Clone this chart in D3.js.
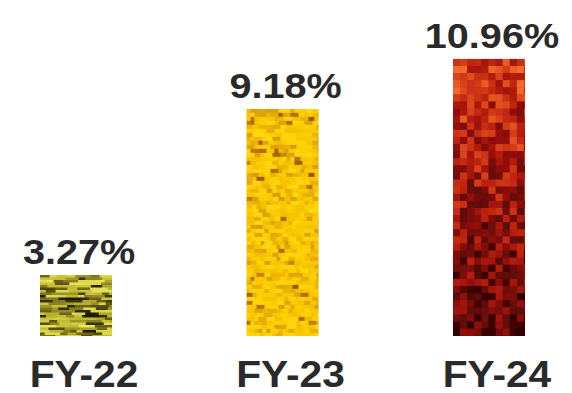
<!DOCTYPE html>
<html>
<head>
<meta charset="utf-8">
<script src="https://cdn.jsdelivr.net/npm/d3@7"></script>
<style>
  html, body { margin: 0; padding: 0; background: #ffffff; }
  svg { display: block; }
  .lbl { font-family: "Liberation Sans", Arial, sans-serif; font-weight: bold; fill: #2a2a2a; }
</style>
</head>
<body>
<svg id="chart" width="572" height="393"></svg>
<script>
// Growth rate by fiscal year
const categories = ["FY-22", "FY-23", "FY-24"];
const values = [3.27, 9.18, 10.96];
const valueLabels = ["3.27%", "9.18%", "10.96%"];

// Texture palettes for each bar (dark to light)
const texturePalettes = [
  ["#1e1a04", "#4a420c", "#8c8420", "#bcb430", "#d8d244", "#ece65c"],
  ["#7a3a00", "#b06a08", "#d89818", "#f0b800", "#fac800", "#ffd80c"],
  ["#300404", "#5c0808", "#8a0c06", "#b81a0c", "#d8401a", "#f06a2a"]
];

const width = 572, height = 393;
const svg = d3.select("#chart");

const x = d3.scaleBand()
  .domain(categories)
  .range([40, 525])
  .paddingInner(0.651)
  .paddingOuter(0);

const y = d3.scaleLinear()
  .domain([1.1, 12])
  .range([336, 29.6]);

// Deterministic noise for the bar textures
function mulberry32(a) {
  return function () {
    a |= 0; a = a + 0x6D2B79F5 | 0;
    let t = Math.imul(a ^ a >>> 15, 1 | a);
    t = t + Math.imul(t ^ t >>> 7, 61 | t) ^ t;
    return ((t ^ t >>> 14) >>> 0) / 4294967296;
  };
}

const defs = svg.append("defs");
defs.append("filter").attr("id", "soft")
  .append("feGaussianBlur").attr("stdDeviation", 0.45);

const bars = svg.append("g")
  .selectAll("g")
  .data(categories.map((c, i) => ({ c, v: values[i], label: valueLabels[i], i })))
  .join("g");

bars.each(function (d) {
  const g = d3.select(this);
  const x0 = x(d.c), w = x.bandwidth();
  const y0 = y(d.v), h = y(y.domain()[0]) - y(d.v);
  const clipId = "clip-" + d.i;
  defs.append("clipPath").attr("id", clipId)
    .append("rect").attr("x", x0).attr("y", y0).attr("width", w).attr("height", h);

  const color = d3.interpolateRgbBasis(texturePalettes[d.i]);
  const rnd = mulberry32(17 + d.i * 101);
  const cells = [];

  if (d.i === 0) {
    // horizontal woven streaks
    const ch = 2.5;
    for (let yy = y0; yy < y0 + h; yy += ch) {
      let xx = x0 - 4 * rnd();
      const rowBias = rnd() * 0.25;
      while (xx < x0 + w) {
        const cw = 6 + rnd() * 12;
        const t = Math.pow(rnd(), 0.7) - rowBias + 0.08;
        cells.push({ x: xx, y: yy, w: cw, h: ch, t: Math.max(0, Math.min(1, t)) });
        xx += cw;
      }
    }
  } else if (d.i === 1) {
    // golden speckle
    const ch = 4;
    for (let yy = y0; yy < y0 + h; yy += ch) {
      let xx = x0;
      while (xx < x0 + w) {
        const cw = 4 + Math.floor(rnd() * 3) * 2;
        const r = rnd();
        const t = r < 0.05 ? 0.1 + rnd() * 0.25 : r < 0.32 ? 0.42 + rnd() * 0.2 : 0.68 + rnd() * 0.32;
        cells.push({ x: xx, y: yy, w: cw, h: ch, t });
        xx += cw;
      }
    }
  } else {
    // red mosaic, darkening towards the base
    const cs = 7.1;
    for (let yy = y0; yy < y0 + h; yy += cs) {
      const depth = (yy - y0) / h;
      for (let xx = x0; xx < x0 + w; xx += cs) {
        const t = 0.78 - depth * 0.62 + (rnd() - 0.5) * 0.6;
        cells.push({ x: xx, y: yy, w: cs, h: cs, t: Math.max(0, Math.min(1, t)) });
      }
    }
  }

  const tex = g.append("g").attr("clip-path", `url(#${clipId})`);
  tex.append("rect")
    .attr("x", x0).attr("y", y0).attr("width", w).attr("height", h)
    .attr("fill", color(0.6));
  tex.append("g").attr("filter", "url(#soft)")
    .selectAll("rect")
    .data(cells)
    .join("rect")
    .attr("x", c => c.x).attr("y", c => c.y)
    .attr("width", c => c.w + 0.4).attr("height", c => c.h + 0.4)
    .attr("fill", c => color(c.t));

  // value label above the bar
  g.append("text")
    .attr("class", "lbl")
    .attr("text-anchor", "middle")
    .attr("font-size", 36)
    .attr("transform", `translate(${x0 + w / 2 + 3},${y0 - 11}) scale(1.1,1)`)
    .text(d.label);
});

// category labels
svg.append("g")
  .selectAll("text")
  .data(categories)
  .join("text")
  .attr("class", "lbl")
  .attr("text-anchor", "middle")
  .attr("font-size", 37)
  .attr("transform", c => `translate(${x(c) + x.bandwidth() / 2 + 8},386.5) scale(1.1,1)`)
  .text(c => c);
</script>
</body>
</html>
